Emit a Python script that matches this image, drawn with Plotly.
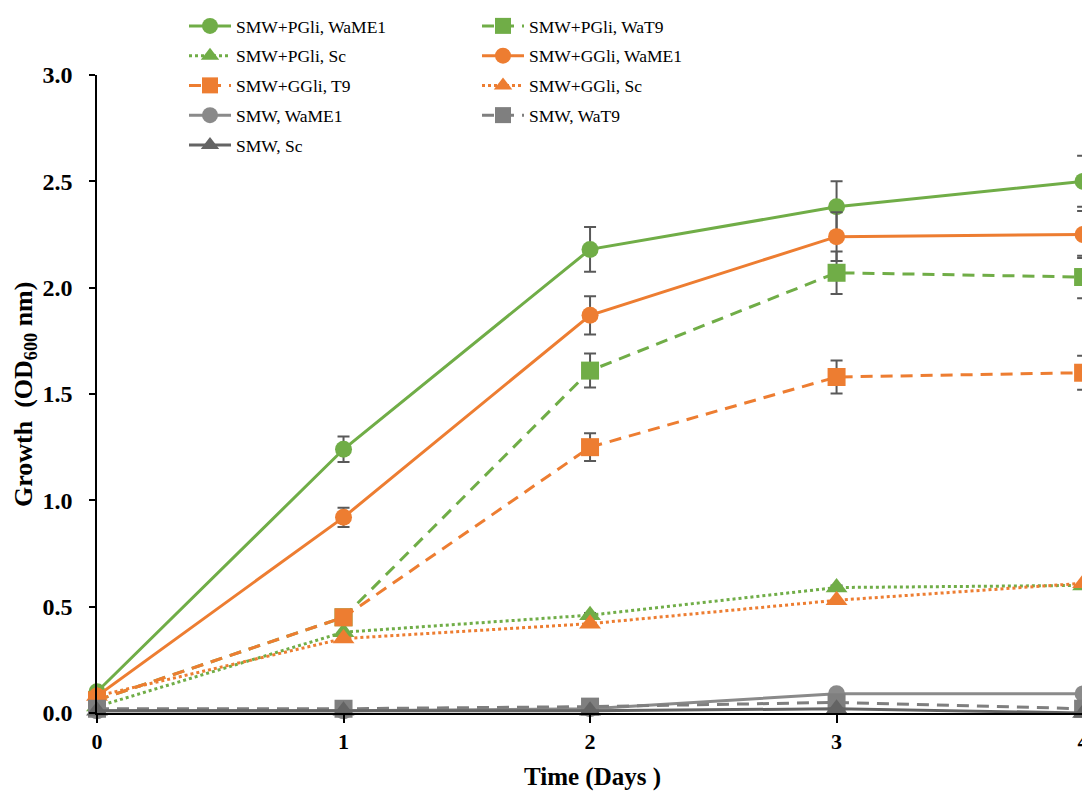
import plotly.graph_objects as go

days = [0, 1, 2, 3, 4]

names = [
    "SMW+PGli, WaME1", "SMW+PGli, WaT9", "SMW+PGli, Sc",
    "SMW+GGli, WaME1", "SMW+GGli, T9", "SMW+GGli, Sc",
    "SMW, WaME1", "SMW, WaT9", "SMW, Sc",
]

pgli_wame1 = [0.10, 1.24, 2.18, 2.38, 2.50]
pgli_wat9 = [0.06, 0.45, 1.61, 2.07, 2.05]
pgli_sc = [0.03, 0.38, 0.46, 0.59, 0.60]
ggli_wame1 = [0.08, 0.92, 1.87, 2.24, 2.25]
ggli_t9 = [0.06, 0.45, 1.25, 1.58, 1.60]
ggli_sc = [0.08, 0.35, 0.42, 0.53, 0.61]
smw_wame1 = [0.01, 0.01, 0.02, 0.09, 0.09]
smw_wat9 = [0.02, 0.02, 0.03, 0.05, 0.02]
smw_sc = [0.01, 0.01, 0.01, 0.02, 0.00]

err_pgli_wame1 = [0.0, 0.06, 0.105, 0.12, 0.12]
err_pgli_wat9 = [0.0, 0.0, 0.08, 0.10, 0.10]
err_pgli_sc = [0.0, 0.0, 0.01, 0.01, 0.0]
err_ggli_wame1 = [0.0, 0.045, 0.09, 0.115, 0.11]
err_ggli_t9 = [0.0, 0.0, 0.065, 0.078, 0.08]
err_ggli_sc = [0.0, 0.0, 0.0, 0.0, 0.0]
err_zero = [0.0, 0.0, 0.0, 0.0, 0.0]

values = [pgli_wame1, pgli_wat9, pgli_sc, ggli_wame1, ggli_t9, ggli_sc,
          smw_wame1, smw_wat9, smw_sc]
errors = [err_pgli_wame1, err_pgli_wat9, err_pgli_sc, err_ggli_wame1,
          err_ggli_t9, err_ggli_sc, err_zero, err_zero, err_zero]

x_title = "Time (Days )"
y_title = "Growth  (OD<sub>600</sub> nm)"

GREEN = "#70AD47"
ORANGE = "#ED7D31"
GREY1 = "#8A8A8A"
GREY2 = "#7F7F7F"
GREY3 = "#646464"
DASH = "12px,8px"
SERIF = "Liberation Serif"

styles = [
    dict(color=GREEN, dash="solid", symbol="circle", size=17, legend="legend"),
    dict(color=GREEN, dash=DASH, symbol="square", size=18, legend="legend2"),
    dict(color=GREEN, dash="dot", symbol="triangle-up", size=19, legend="legend"),
    dict(color=ORANGE, dash="solid", symbol="circle", size=17, legend="legend2"),
    dict(color=ORANGE, dash=DASH, symbol="square", size=18, legend="legend"),
    dict(color=ORANGE, dash="dot", symbol="triangle-up", size=19, legend="legend2"),
    dict(color=GREY1, dash="solid", symbol="circle", size=17, legend="legend"),
    dict(color=GREY2, dash=DASH, symbol="square", size=18, legend="legend2"),
    dict(color=GREY3, dash="solid", symbol="triangle-up", size=19, legend="legend"),
]

fig = go.Figure()
for i, (nm, v, e, st) in enumerate(zip(names, values, errors, styles)):
    fig.add_trace(go.Scatter(
        x=days, y=v, name=nm, mode="lines+markers",
        line=dict(color=st["color"], width=3, dash=st["dash"]),
        marker=dict(color=st["color"], symbol=st["symbol"], size=st["size"]),
        error_y=dict(type="data", array=e, visible=True, color="#595959",
                     thickness=2, width=6),
        legend=st["legend"], legendgroup="g%d" % i,
        cliponaxis=False,
    ))

W, H = 1082, 787
legend_common = dict(
    font=dict(family=SERIF, size=17.5, color="#000000"),
    itemwidth=42, tracegroupgap=4, bgcolor="rgba(0,0,0,0)",
    orientation="v", xref="container", yref="container",
    xanchor="left", yanchor="top", y=1.0,
)

fig.update_layout(
    template="none",
    width=W, height=H,
    margin=dict(l=89, r=0, t=67, b=82, autoexpand=False),
    plot_bgcolor="white", paper_bgcolor="white",
    showlegend=True,
    legend=dict(x=176 / W, **legend_common),
    legend2=dict(x=469 / W, **legend_common),
    xaxis=dict(
        automargin=False,
        range=[0, 4.028], tickvals=days, ticktext=[str(d) for d in days],
        showgrid=False, zeroline=False,
        showline=True, linecolor="#000000", linewidth=1.5,
        ticks="outside", ticklen=8, tickwidth=1.5, tickcolor="#000000",
        tickfont=dict(family=SERIF, size=22, color="#000000", weight="bold"),
    ),
    yaxis=dict(
        automargin=False,
        range=[0, 3.0], dtick=0.5, tickformat=".1f",
        showgrid=False, zeroline=False,
        showline=True, linecolor="#000000", linewidth=1.5,
        ticks="outside", ticklen=6, tickwidth=1.5, tickcolor="#000000",
        ticklabelstandoff=12,
        tickfont=dict(family=SERIF, size=24, color="#000000", weight="bold"),
    ),
    annotations=[
        dict(text="<b>" + x_title + "</b>", xref="paper", yref="paper",
             x=(584 - 89) / 993, y=(705 - 769) / 638, showarrow=False,
             xanchor="center", yanchor="middle",
             font=dict(family=SERIF, size=25, color="#000000")),
        dict(text="<b>" + y_title + "</b>", xref="paper", yref="paper",
             x=(17 - 89) / 993, y=(705 - 387) / 638, showarrow=False,
             textangle=-90, xanchor="center", yanchor="middle",
             font=dict(family=SERIF, size=26, color="#000000")),
    ],
)

fig.write_html("out.html")
